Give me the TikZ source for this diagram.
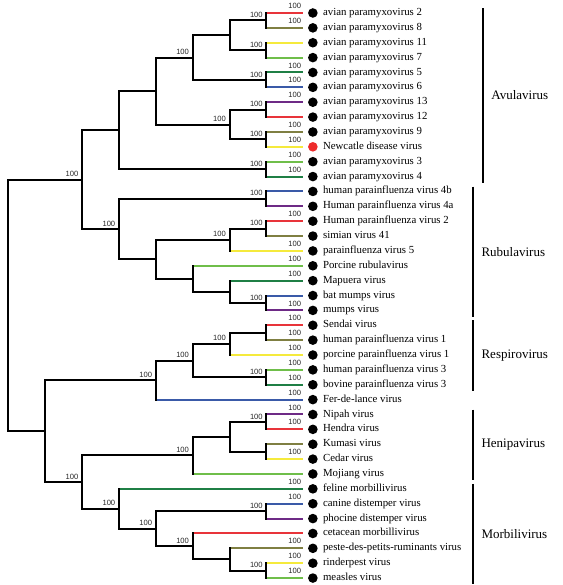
\documentclass[tikz,border=0pt]{standalone}
\usepackage{fontspec}
\setmainfont{Liberation Serif}
\newfontfamily\bootfont{Liberation Sans}
\usetikzlibrary{positioning,calc}
\definecolor{treered}   {HTML}{E8343A}
\definecolor{treeolive} {HTML}{7F7F42}
\definecolor{treeyellow}{HTML}{F5EA3C}
\definecolor{treelime}  {HTML}{6FBE4A}
\definecolor{treegreen} {HTML}{1F7F45}
\definecolor{treeblue}  {HTML}{3A5AA8}
\definecolor{treepurple}{HTML}{6E2A86}
\definecolor{ndvred}    {HTML}{EE2C2C}
\begin{document}
\begin{tikzpicture}[
  x=36.87pt, y=-14.87pt,
  branch/.style={draw=black, line width=2pt, line cap=rect},
  tipline/.style={draw=#1, line width=2pt},
  dot/.style={circle, fill=#1, inner sep=0pt, minimum size=9.6pt},
  taxon/.style={inner sep=0pt, text height=1.55ex, text depth=.45ex,
                font=\fontsize{10.8}{12}\selectfont},
  boot/.style={inner sep=0pt, text=black!85, font=\bootfont\fontsize{7.6}{8}\selectfont},
  bracket/.style={draw=black, line width=1.8pt},
  clade/.style={inner sep=0pt, font=\fontsize{13}{15}\selectfont},
]
  \useasboundingbox (-8.3pt,13pt) rectangle (553.7pt,-572pt);

  % Internal nodes at (level, row); leaves sit at level 8.
  \coordinate (root)  at (0,19.66015625);
  \coordinate (paraA) at (2,11.203125);
  \coordinate (avu)   at (3,7.875);
  \coordinate (avup)  at (4,5.25);
  \coordinate (av26)  at (5,3);
  \coordinate (av27)  at (6,1.5);
  \coordinate (c2)    at (7,0.5);
  \coordinate (c11)   at (7,2.5);
  \coordinate (c5)    at (7,4.5);
  \coordinate (av139) at (6,7.5);
  \coordinate (c13)   at (7,6.5);
  \coordinate (c9)    at (7,8.5);
  \coordinate (c3)    at (7,10.5);
  \coordinate (rub)   at (3,14.53125);
  \coordinate (c4b)   at (7,12.5);
  \coordinate (rubB)  at (4,16.5625);
  \coordinate (rubC)  at (6,15.25);
  \coordinate (c2h)   at (7,14.5);
  \coordinate (rubD)  at (5,17.875);
  \coordinate (rubE)  at (6,18.75);
  \coordinate (cbm)   at (7,19.5);
  \coordinate (morB)  at (1,28.1171875);
  \coordinate (resC)  at (4,24.6875);
  \coordinate (resD)  at (5,23.375);
  \coordinate (resE)  at (6,22.25);
  \coordinate (csen)  at (7,21.5);
  \coordinate (cpi3)  at (7,24.5);
  \coordinate (morF)  at (2,31.546875);
  \coordinate (hen)   at (5,29.75);
  \coordinate (henQ)  at (6,28.5);
  \coordinate (cnip)  at (7,27.5);
  \coordinate (ckum)  at (7,29.5);
  \coordinate (morG)  at (3,33.34375);
  \coordinate (morI)  at (4,34.6875);
  \coordinate (ccan)  at (7,33.5);
  \coordinate (morJ)  at (5,35.875);
  \coordinate (morK)  at (6,36.75);
  \coordinate (crin)  at (7,37.5);

  % Leaves: row / parent / branch colour / dot colour / name.
  \foreach \i/\p/\col/\dc/\nm in {
      0/c2/treered/black/avian paramyxovirus 2,
      1/c2/treeolive/black/avian paramyxovirus 8,
      2/c11/treeyellow/black/avian paramyxovirus 11,
      3/c11/treelime/black/avian paramyxovirus 7,
      4/c5/treegreen/black/avian paramyxovirus 5,
      5/c5/treeblue/black/avian paramyxovirus 6,
      6/c13/treepurple/black/avian paramyxovirus 13,
      7/c13/treered/black/avian paramyxovirus 12,
      8/c9/treeolive/black/avian paramyxovirus 9,
      9/c9/treeyellow/ndvred/Newcatle disease virus,
      10/c3/treelime/black/avian paramyxovirus 3,
      11/c3/treegreen/black/avian paramyxovirus 4,
      12/c4b/treeblue/black/human parainfluenza virus 4b,
      13/c4b/treepurple/black/Human parainfluenza virus 4a,
      14/c2h/treered/black/Human parainfluenza virus 2,
      15/c2h/treeolive/black/simian virus 41,
      16/rubC/treeyellow/black/parainfluenza virus 5,
      17/rubD/treelime/black/Porcine rubulavirus,
      18/rubE/treegreen/black/Mapuera virus,
      19/cbm/treeblue/black/bat mumps virus,
      20/cbm/treepurple/black/mumps virus,
      21/csen/treered/black/Sendai virus,
      22/csen/treeolive/black/human parainfluenza virus 1,
      23/resE/treeyellow/black/porcine parainfluenza virus 1,
      24/cpi3/treelime/black/human parainfluenza virus 3,
      25/cpi3/treegreen/black/bovine parainfluenza virus 3,
      26/resC/treeblue/black/Fer-de-lance virus,
      27/cnip/treepurple/black/Nipah virus,
      28/cnip/treered/black/Hendra virus,
      29/ckum/treeolive/black/Kumasi virus,
      30/ckum/treeyellow/black/Cedar virus,
      31/hen/treelime/black/Mojiang virus,
      32/morG/treegreen/black/feline morbillivirus,
      33/ccan/treeblue/black/canine distemper virus,
      34/ccan/treepurple/black/phocine distemper virus,
      35/morJ/treered/black/cetacean morbillivirus,
      36/morK/treeolive/black/peste-des-petits-ruminants virus,
      37/crin/treeyellow/black/rinderpest virus,
      38/crin/treelime/black/measles virus}
    { \coordinate (t\i) at (8,\i);
      \draw[tipline=\col] (\p |- t\i) -- (t\i);
      \draw[branch] (\p) -- (\p |- t\i);
      \node[dot=\dc, right=4.6pt of t\i] (d\i) {};
      \node[taxon, right=5pt of d\i] (n\i) {\nm}; }

  % Black elbows between internal nodes.
  \foreach \p/\c in {root/paraA, root/morB, paraA/avu, paraA/rub, avu/avup, avu/c3,
                     avup/av26, avup/av139, av26/av27, av26/c5, av27/c2, av27/c11,
                     av139/c13, av139/c9, rub/c4b, rub/rubB, rubB/rubC, rubB/rubD,
                     rubC/c2h, rubD/rubE, rubE/cbm, morB/resC, morB/morF,
                     resC/resD, resD/resE, resD/cpi3, resE/csen, morF/hen, morF/morG,
                     hen/henQ, henQ/cnip, henQ/ckum, morG/morI, morI/ccan, morI/morJ,
                     morJ/morK, morK/crin}
    { \draw[branch] (\p) |- (\c); }

  % Bootstrap values at nodes and above tips.
  \foreach \k in {c2, c11, c5, av26, c13, c9, av139, c3, paraA, c4b, c2h, rubC, cbm, rub,
                  resE, cpi3, resD, resC, morF, hen, cnip, morG, morI, ccan, morJ, crin}
    { \node[boot, anchor=east] (bs\k) at ([xshift=-3.5pt,yshift=5.5pt]\k) {100}; }
  \foreach \i in {0,1,4,5,6,8,9,10,11,14,16,17,18,20,21,22,23,24,25,26,27,28,30,32,33,36,37,38}
    { \node[boot, anchor=east] (bt\i) at ([xshift=-2pt,yshift=7pt]t\i) {100}; }

  % Genus brackets on the right.
  \foreach \nm/\ra/\rb/\bx in {Avulavirus/0/11/12.867, Rubulavirus/12/20/12.6,
                               Respirovirus/21/25/12.6, Henipavirus/27/31/12.6,
                               Morbilivirus/32/38/12.6}
    { \coordinate (\nm-a) at ({\bx},{\ra-0.33});
      \coordinate (\nm-b) at ({\bx},{\rb+0.42});
      \draw[bracket] (\nm-a) -- (\nm-b);
      \node[clade, anchor=west] (\nm) at ([xshift=8.5pt]$(\nm-a)!0.5!(\nm-b)$) {\nm}; }
\end{tikzpicture}
\end{document}
